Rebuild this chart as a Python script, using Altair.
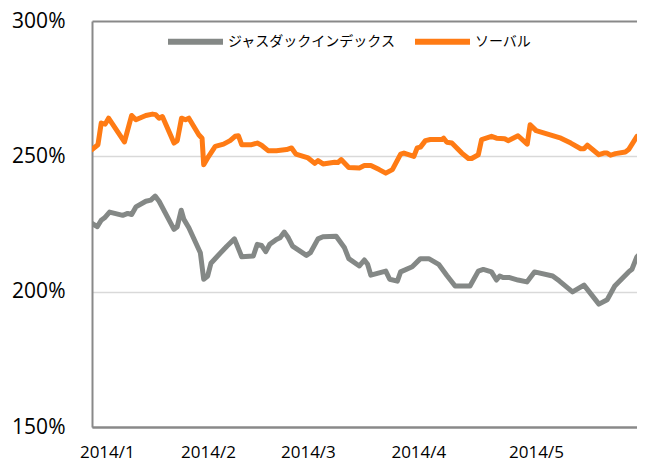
import altair as alt
import pandas as pd

# trading-day index (0 = first trading day shown) and value in %
jasdaq_day = [0, 0.95, 1.67, 2.28, 3.18, 5.57, 6.46, 7.18, 7.95, 9.75, 10.65, 11.44, 12.15,
              14.85, 15.44, 16.16, 16.64, 17.54, 19.62, 20.23, 20.95, 21.54, 22.75, 24.42,
              25.80, 27.11, 29.21, 29.93, 30.70, 31.47, 32.19, 33.39, 34.06, 34.83, 35.55,
              36.32, 38.83, 39.55, 40.93, 41.83, 44.22, 45.73, 46.50, 48.42, 49.32, 49.91,
              50.50, 53.20, 53.91, 55.30, 55.89, 57.99, 59.48, 60.99, 62.78, 64.27, 65.76,
              66.97, 68.46, 69.96, 70.86, 72.35, 73.25, 73.84, 74.45, 75.64, 77.15, 78.76,
              80.13, 83.43, 84.61, 87.02, 89.10, 91.80, 93.30, 94.67, 97.18, 97.79, 98.69, 99.28]
jasdaq_val = [225.2, 224.0, 226.4, 227.3, 229.4, 228.2, 228.9, 228.5, 231.3, 233.4, 233.8, 235.3, 233.4,
              223.0, 224.0, 230.1, 226.7, 223.6, 214.4, 204.6, 205.8, 210.5, 213.2, 216.8,
              219.5, 212.9, 213.2, 217.5, 217.1, 214.8, 217.5, 219.3, 219.9, 222.0, 219.9,
              216.8, 213.4, 214.4, 219.5, 220.3, 220.5, 216.2, 212.2, 209.5, 211.7, 210.1,
              206.1, 207.6, 204.6, 203.9, 207.3, 209.2, 212.2, 212.2, 210.1, 206.0, 202.1,
              202.1, 202.1, 207.6, 208.2, 207.3, 204.3, 205.8, 205.2, 205.2, 204.3, 203.6,
              207.3, 205.8, 204.0, 199.9, 202.4, 195.4, 197.0, 202.1, 207.3, 208.3, 212.9, 214.0]

sobal_day = [0, 1.08, 1.67, 2.39, 3.0, 5.87, 7.18, 7.95, 9.75, 10.95, 11.54, 12.15, 12.75,
             14.85, 15.44, 16.21, 16.93, 17.54, 19.34, 19.93, 20.23, 21.13, 22.32, 23.82,
             25.01, 25.91, 26.52, 27.11, 28.91, 29.93, 30.70, 31.90, 33.39, 35.24, 36.14,
             36.93, 39.14, 40.34, 40.93, 41.83, 43.93, 44.52, 45.12, 46.50, 48.42, 49.32,
             50.50, 52.01, 53.20, 54.40, 55.89, 56.50, 58.29, 58.89, 59.48, 60.38, 61.27,
             63.38, 63.68, 64.27, 65.17, 66.07, 66.97, 68.17, 68.76, 69.96, 70.56, 72.35,
             73.25, 74.74, 75.35, 77.15, 78.82, 79.35, 80.43, 84.92, 86.71, 88.51, 89.10,
             89.71, 91.80, 92.69, 93.30, 93.90, 94.79, 96.59, 97.18, 98.69, 99.28]
sobal_val = [252.5, 254.3, 262.3, 261.9, 264.1, 255.3, 265.1, 263.5, 265.1, 265.6, 265.4, 264.1, 264.7,
             254.9, 255.8, 264.1, 263.5, 264.1, 258.0, 256.7, 246.9, 250.0, 253.7, 254.5,
             255.8, 257.4, 257.6, 254.3, 254.3, 254.9, 254.1, 252.1, 252.1, 252.5, 253.1,
             250.8, 249.4, 247.4, 248.4, 247.2, 247.8, 247.7, 248.8, 245.9, 245.7, 246.6,
             246.6, 245.1, 243.8, 245.1, 250.8, 251.2, 250.0, 253.1, 253.4, 255.8, 256.2,
             256.2, 256.7, 255.2, 254.9, 253.1, 251.2, 249.2, 249.2, 250.6, 256.2, 257.4,
             256.7, 256.5, 255.8, 257.6, 254.5, 261.7, 259.5, 256.7, 254.9, 252.8, 252.8,
             254.1, 250.6, 251.2, 251.2, 250.4, 251.0, 251.6, 252.5, 257.4, 257.4]

series_names = ["ジャスダックインデックス", "ソーバル"]
series_colors = ["#848886", "#FF7B14"]

month_pos = [2.69, 21.0, 39.1, 59.1, 80.4]
month_lbl = ["2014/1", "2014/2", "2014/3", "2014/4", "2014/5"]
y_ticks = [150, 200, 250, 300]

rows = []
for d, v in zip(jasdaq_day, jasdaq_val):
    rows.append({"day": d, "value": v, "series": series_names[0], "o": 0})
for d, v in zip(sobal_day, sobal_val):
    rows.append({"day": d, "value": v, "series": series_names[1], "o": 1})
df = pd.DataFrame(rows)

# label expression built from the tick lists
expr = "''"
for p, l in reversed(list(zip(month_pos, month_lbl))):
    expr = f"(abs(datum.value - {p}) < 0.5) ? '{l}' : ({expr})"

frame = "#898989"
edge_test = "datum.value >= 300 || datum.value <= 150"

chart = alt.Chart(df).mark_line(strokeWidth=5, strokeJoin="round", strokeCap="round", clip=True).encode(
    x=alt.X("day:Q",
            scale=alt.Scale(domain=[0, 98.7], nice=False, zero=False),
            axis=alt.Axis(values=month_pos, labelExpr=expr, title=None, grid=False, ticks=False,
                          domainColor=frame, domainWidth=2, labelFont="Open Sans",
                          labelFontSize=17, labelColor="#000000", labelPadding=17,
                          labelOverlap=False, labelFlush=False)),
    y=alt.Y("value:Q",
            scale=alt.Scale(domain=[150, 300], nice=False, zero=False),
            axis=alt.Axis(values=y_ticks, labelExpr="datum.value + '%'", title=None, ticks=False,
                          domainColor=frame, domainWidth=2, labelFont="Open Sans",
                          labelFontSize=21, labelColor="#000000", labelPadding=27,
                          labelFlush=False,
                          gridColor={"condition": {"test": edge_test, "value": frame},
                                     "value": "#D9D9D9"},
                          gridWidth={"condition": {"test": edge_test, "value": 2},
                                     "value": 1.5})),
    color=alt.Color("series:N",
                    scale=alt.Scale(domain=series_names, range=series_colors),
                    legend=alt.Legend(title=None, orient="none", direction="horizontal",
                                      legendX=73, legendY=-10, symbolType="stroke",
                                      symbolSize=3025, symbolStrokeWidth=6, labelOffset=2,
                                      columnPadding=7, padding=0, labelLimit=400,
                                      labelFont="Noto Sans CJK JP", labelFontSize=14,
                                      labelColor="#000000")),
    order="o:Q",
).properties(
    width=545, height=406,
    autosize=alt.AutoSizeParams(type="none"),
    padding={"left": 84, "top": 13, "right": 0, "bottom": 35},
).configure_view(stroke=None)

chart.save("out.html", embed_options={"renderer": "svg", "actions": False})
